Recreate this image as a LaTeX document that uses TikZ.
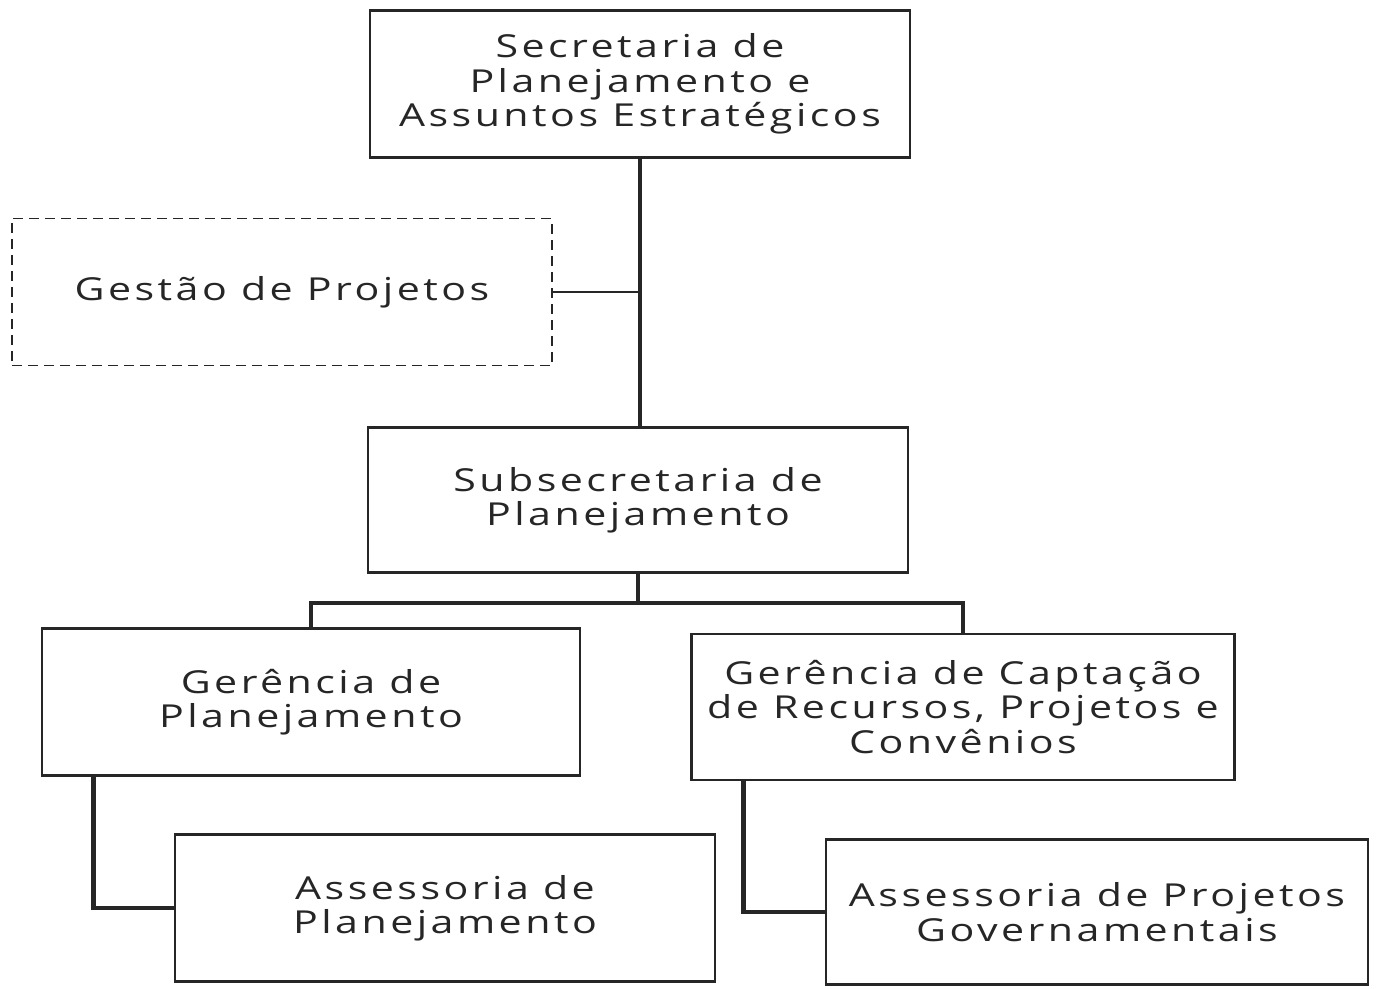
\documentclass[tikz,border=0pt]{standalone}
\usepackage{fontspec}
\setmainfont{Open Sans}[FakeStretch=1.3,LetterSpace=11]
\usepackage{tikz}

\begin{document}
\begin{tikzpicture}[x=0.02cm,y=-0.02cm,
    unit_node/.style={draw=black!85,line width=1.4pt,rectangle,minimum width=10.8cm,minimum height=2.94cm,align=center,inner sep=2pt,text=black!85,font=\fontsize{18}{19.5}\selectfont},
    link/.style={draw=black!85,line width=2.8pt}]
    \useasboundingbox (0,0) rectangle (1380,988);
    \node[unit_node] (sec) at (640,84) {Secretaria de\\Planejamento e\\Assuntos Estratégicos};
    \node[unit_node,dashed,dash pattern=on 0.2cm off 0.12cm,line width=1.1pt] (gest) at (282,292) {Gestão de Projetos};
    \node[unit_node,minimum height=2.9cm] (sub) at (638,500) {Subsecretaria de\\Planejamento};
    \node[unit_node,minimum width=10.76cm] (gerp) at (311,702) {Gerência de\\Planejamento};
    \node[unit_node,minimum width=10.86cm,minimum height=2.92cm] (gerc) at (963,707) {Gerência de Captação\\de Recursos, Projetos e\\Convênios};
    \node[unit_node] (assp) at (445,908) {Assessoria de\\Planejamento};
    \node[unit_node,minimum width=10.84cm,minimum height=2.9cm] (assg) at (1097,912) {Assessoria de Projetos\\Governamentais};
    \coordinate (j) at (638,603);
    \draw[link] (sec.south) -- (sec.south |- sub.north);
    \draw[draw=black!85,line width=1.1pt] (gest.east) -- (gest.east -| sec.south);
    \draw[link] (sub.south) -- (j);
    \draw[link] (gerp.north) |- (j) -| (gerc.north);
    \draw[link] ([xshift=1.06cm]gerp.south west) |- (assp.west);
    \draw[link] ([xshift=1.06cm]gerc.south west) |- (assg.west);
\end{tikzpicture}
\end{document}
